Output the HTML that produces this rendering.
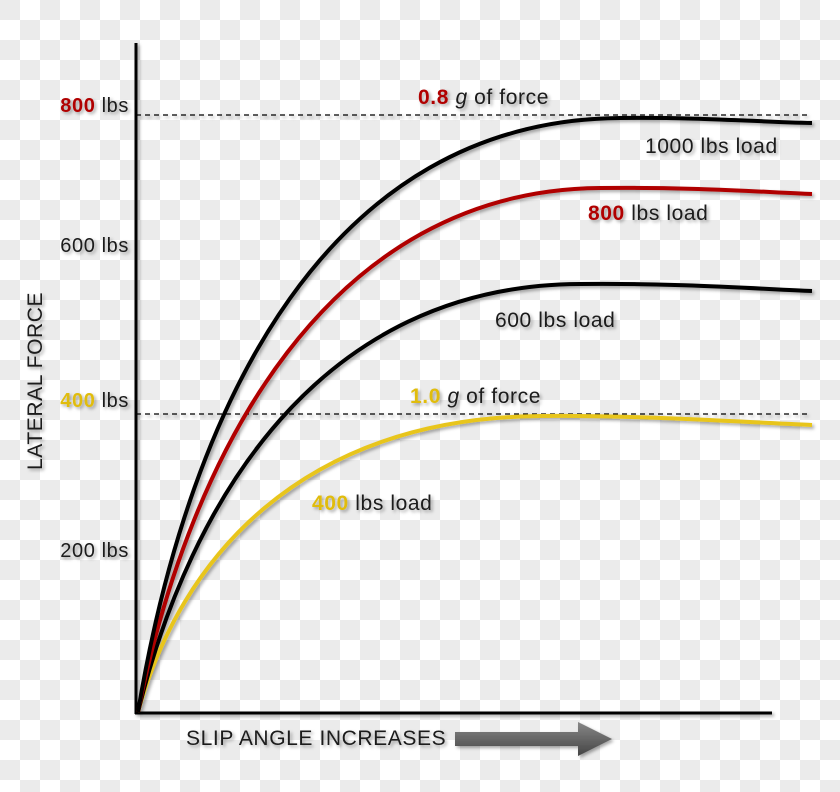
<!DOCTYPE html>
<html><head><style>
body{margin:0;width:840px;height:792px;overflow:hidden;
background-color:#fff;
background-image:
linear-gradient(45deg,#ebebeb 25%,transparent 25%,transparent 75%,#ebebeb 75%),
linear-gradient(45deg,#ebebeb 25%,transparent 25%,transparent 75%,#ebebeb 75%);
background-size:40px 40px;background-position:20px 0,0 20px;}
svg{position:absolute;left:0;top:0}
text{font-family:"Liberation Sans",sans-serif;font-size:20px;letter-spacing:0.6px;fill:#1a1a1a}
</style></head><body>
<svg width="840" height="792" viewBox="0 0 840 792">
<defs><filter id="s" x="-10%" y="-10%" width="130%" height="130%"><feDropShadow dx="2" dy="2" stdDeviation="1.5" flood-color="#000" flood-opacity="0.35"/></filter>
<linearGradient id="ag" x1="0" y1="0" x2="0" y2="1"><stop offset="0" stop-color="#888"/><stop offset="1" stop-color="#444"/></linearGradient></defs>
<g filter="url(#s)">
<line x1="136" y1="43" x2="136" y2="714" stroke="#000" stroke-width="3"/>
<line x1="135" y1="713" x2="772" y2="713" stroke="#000" stroke-width="3"/>
<line x1="136" y1="115" x2="808" y2="115" stroke="#000" stroke-width="1.2" stroke-dasharray="5,4"/>
<line x1="136" y1="414" x2="808" y2="414" stroke="#000" stroke-width="1.2" stroke-dasharray="5,4"/>
<path d="M138,712 C180,560 300,418 540,416 C640,415 740,422 812,425" fill="none" stroke="#e8c51a" stroke-width="4"/>
<path d="M138,712 C190,500 320,285 580,284 C680,283 760,289 812,291" fill="none" stroke="#000" stroke-width="4"/>
<path d="M138,712 C190,450 330,190 600,188 C700,187 760,192 812,194" fill="none" stroke="#b00000" stroke-width="4"/>
<path d="M138,712 C190,400 330,120 620,118 C700,117 760,122 812,123" fill="none" stroke="#000" stroke-width="4"/>
<path d="M455,732 L578,732 L578,722 L612,739 L578,756 L578,746 L455,746 Z" fill="url(#ag)"/>
<text x="129" y="112" text-anchor="end"><tspan fill="#b00000" font-weight="bold">800</tspan> lbs</text>
<text x="129" y="252" text-anchor="end">600 lbs</text>
<text x="129" y="407" text-anchor="end"><tspan fill="#e0bc10" font-weight="bold">400</tspan> lbs</text>
<text x="129" y="557" text-anchor="end">200 lbs</text>
<text x="0" y="0" transform="translate(42,470) rotate(-90)" style="font-size:21px">LATERAL FORCE</text>
<text x="186" y="745" style="font-size:21px">SLIP ANGLE INCREASES</text>
<text x="418" y="104" style="font-size:21px"><tspan fill="#b00000" font-weight="bold">0.8</tspan> <tspan font-style="italic">g</tspan> of force</text>
<text x="645" y="153" style="font-size:21px">1000 lbs load</text>
<text x="588" y="220" style="font-size:21px"><tspan fill="#b00000" font-weight="bold">800</tspan> lbs load</text>
<text x="495" y="327" style="font-size:21px">600 lbs load</text>
<text x="410" y="403" style="font-size:21px"><tspan fill="#e0bc10" font-weight="bold">1.0</tspan> <tspan font-style="italic">g</tspan> of force</text>
<text x="312" y="510" style="font-size:21px"><tspan fill="#e0bc10" font-weight="bold">400</tspan> lbs load</text>
</g>
</svg>
</body></html>
